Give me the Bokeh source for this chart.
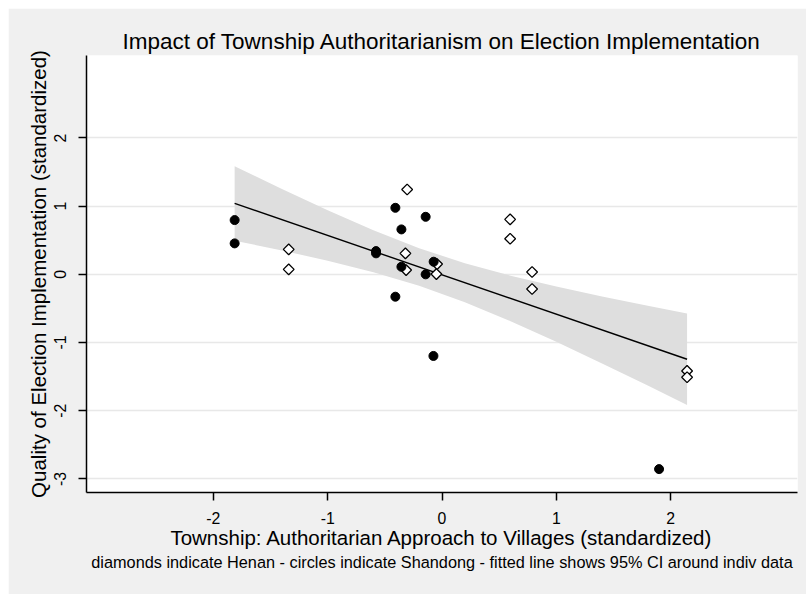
import math
from bokeh.plotting import figure
from bokeh.models import Range1d, FixedTicker, Title
from bokeh.embed import file_html
from bokeh.resources import INLINE

# Shandong (filled circles)
sd_x = [-1.814, -1.814, -0.577, -0.577, -0.408, -0.143, -0.355, -0.355, -0.073, -0.143, -0.408, -0.075, 1.899]
sd_y = [0.796, 0.454, 0.341, 0.308, 0.976, 0.844, 0.659, 0.111, 0.185, 0.000, -0.328, -1.197, -2.857]

# Henan (hollow diamonds)
hn_x = [-1.341, -1.341, -0.305, -0.320, -0.314, -0.043, -0.049, 0.596, 0.596, 0.788, 0.788, 2.144, 2.144]
hn_y = [0.366, 0.073, 1.245, 0.308, 0.063, 0.151, 0.004, 0.806, 0.522, 0.034, -0.215, -1.417, -1.509]

# fitted line and 95% CI band
fit_x = [-1.814, 2.144]
fit_y = [1.040, -1.245]
band_x = [-1.814, -1.4, -1.0, -0.6, -0.2, 0.2, 0.6, 1.0, 1.4, 1.8, 2.144]
band_hi = [1.586, 1.252, 0.940, 0.646, 0.384, 0.162, -0.021, -0.180, -0.324, -0.460, -0.575]
band_lo = [0.494, 0.350, 0.200, 0.032, -0.168, -0.408, -0.687, -0.990, -1.306, -1.632, -1.915]

x_ticks = [-2, -1, 0, 1, 2]
y_ticks = [-3, -2, -1, 0, 1, 2]
x_tick_labels = ["-2", "-1", "0", "1", "2"]
y_tick_labels = ["-3", "-2", "-1", "0", "1", "2"]

FONT = "Liberation Sans"

p = figure(width=798, height=586, output_backend="svg", toolbar_location=None,
           x_range=Range1d(-3.11, 3.11), y_range=Range1d(-3.2, 3.21),
           min_border_left=78, min_border_right=9, min_border_top=47, min_border_bottom=102,
           margin=(8, 0, 0, 8))
p.background_fill_color = "white"
p.border_fill_color = "#f0f0f0"
p.outline_line_color = None

p.title.text = "Impact of Township Authoritarianism on Election Implementation"
p.title.align = "center"
p.title.text_font = FONT
p.title.text_font_size = "22.5px"
p.title.text_font_style = "normal"
p.title.text_color = "black"
p.title.standoff = 3

for ax in (p.xaxis[0], p.yaxis[0]):
    ax.axis_line_color = "black"
    ax.axis_line_width = 1.5
    ax.major_tick_line_color = "black"
    ax.major_tick_line_width = 1.5
    ax.major_tick_out = 8
    ax.major_tick_in = 0
    ax.minor_tick_line_color = None
    ax.major_label_text_font = FONT
    ax.major_label_text_font_size = "15.8px"
    ax.major_label_text_color = "black"
    ax.axis_label_text_font = FONT
    ax.axis_label_text_font_size = "20.5px"
    ax.axis_label_text_font_style = "normal"
    ax.axis_label_text_color = "black"

p.xaxis.ticker = FixedTicker(ticks=x_ticks)
p.yaxis.ticker = FixedTicker(ticks=y_ticks)
p.xaxis.major_label_overrides = dict(zip(x_ticks, x_tick_labels))
p.yaxis.major_label_overrides = dict(zip(y_ticks, y_tick_labels))
p.xaxis.axis_label = "Township: Authoritarian Approach to Villages (standardized)"
p.yaxis.axis_label = "Quality of Election Implementation (standardized)"
p.yaxis.major_label_orientation = "vertical"
p.xaxis.major_label_standoff = 11
p.yaxis.major_label_standoff = 12
p.xaxis.axis_label_standoff = -1
p.yaxis.axis_label_standoff = 2

p.xgrid.grid_line_color = None
p.ygrid.grid_line_color = "#e8e8e8"
p.ygrid.grid_line_width = 1.5

p.varea(x=band_x, y1=band_lo, y2=band_hi, fill_color="#dedede")
p.line(fit_x, fit_y, line_color="black", line_width=1.4)

p.scatter(hn_x, hn_y, marker="square", angle=math.pi / 4, size=7.6,
          fill_color="white", line_color="black", line_width=1.3)
p.scatter(sd_x, sd_y, marker="circle", size=9,
          fill_color="black", line_color="black")

cap = Title(text="diamonds indicate Henan - circles indicate Shandong - fitted line shows 95% CI around indiv data",
            align="center", text_font=FONT, text_font_size="16.3px", text_font_style="normal",
            text_color="black", standoff=-2)
p.add_layout(cap, "below")

open("out.html", "w").write(file_html(p, INLINE))
